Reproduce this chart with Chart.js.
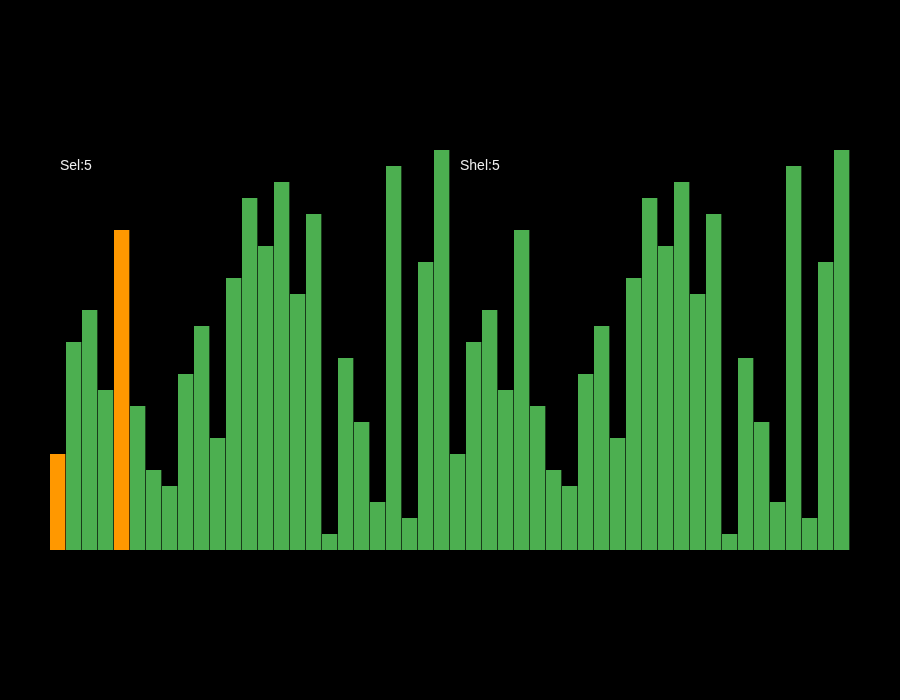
<!DOCTYPE html>
<html>
<head>
<meta charset="utf-8">
<script src="https://cdn.jsdelivr.net/npm/chart.js@4/dist/chart.umd.min.js"></script>
<style>
  body { margin: 0; background: #000; }
  #wrap { position: relative; width: 900px; height: 700px; }
  .lbl { position: absolute; color: #eee; font: 14px "Liberation Sans", Arial, sans-serif; line-height: 16px; }
</style>
</head>
<body>
<div id="wrap">
  <canvas id="sortChart" width="900" height="700"></canvas>
  <div class="lbl" id="selLabel" style="left:60px; top:157px;">Sel:5</div>
  <div class="lbl" id="shelLabel" style="left:460px; top:157px;">Shel:5</div>
</div>
<script>
// two sorting panels, same array in both
var selValues = [6, 13, 15, 10, 20, 9, 5, 4, 11, 14, 7, 17, 22, 19, 23, 16, 21, 1, 12, 8, 3, 24, 2, 18, 25];
var shelValues = [6, 13, 15, 10, 20, 9, 5, 4, 11, 14, 7, 17, 22, 19, 23, 16, 21, 1, 12, 8, 3, 24, 2, 18, 25];
var selHighlight = [0, 4];   // indexes drawn orange in left panel
var shelHighlight = [];

var allValues = selValues.concat(shelValues);
var labels = allValues.map(function(v, i) { return i; });
var colors = allValues.map(function(v, i) {
  if (i < selValues.length) {
    return selHighlight.indexOf(i) >= 0 ? '#ff9800' : '#4caf50';
  }
  return shelHighlight.indexOf(i - selValues.length) >= 0 ? '#ff9800' : '#4caf50';
});

const ctx = document.getElementById('sortChart');
new Chart(ctx, {
  type: 'bar',
  data: {
    labels: labels,
    datasets: [{
      data: allValues,
      backgroundColor: colors,
      borderColor: '#000',
      borderWidth: { top: 0, left: 0, bottom: 0, right: 1 },
      borderSkipped: false,
      categoryPercentage: 1,
      barPercentage: 1
    }]
  },
  options: {
    responsive: false,
    animation: false,
    layout: { padding: { left: 50, right: 50, top: 150, bottom: 150 } },
    plugins: { legend: { display: false }, tooltip: { enabled: false } },
    scales: {
      x: { display: false },
      y: { display: false, min: 0, max: 25 }
    }
  }
});
</script>
</body>
</html>
